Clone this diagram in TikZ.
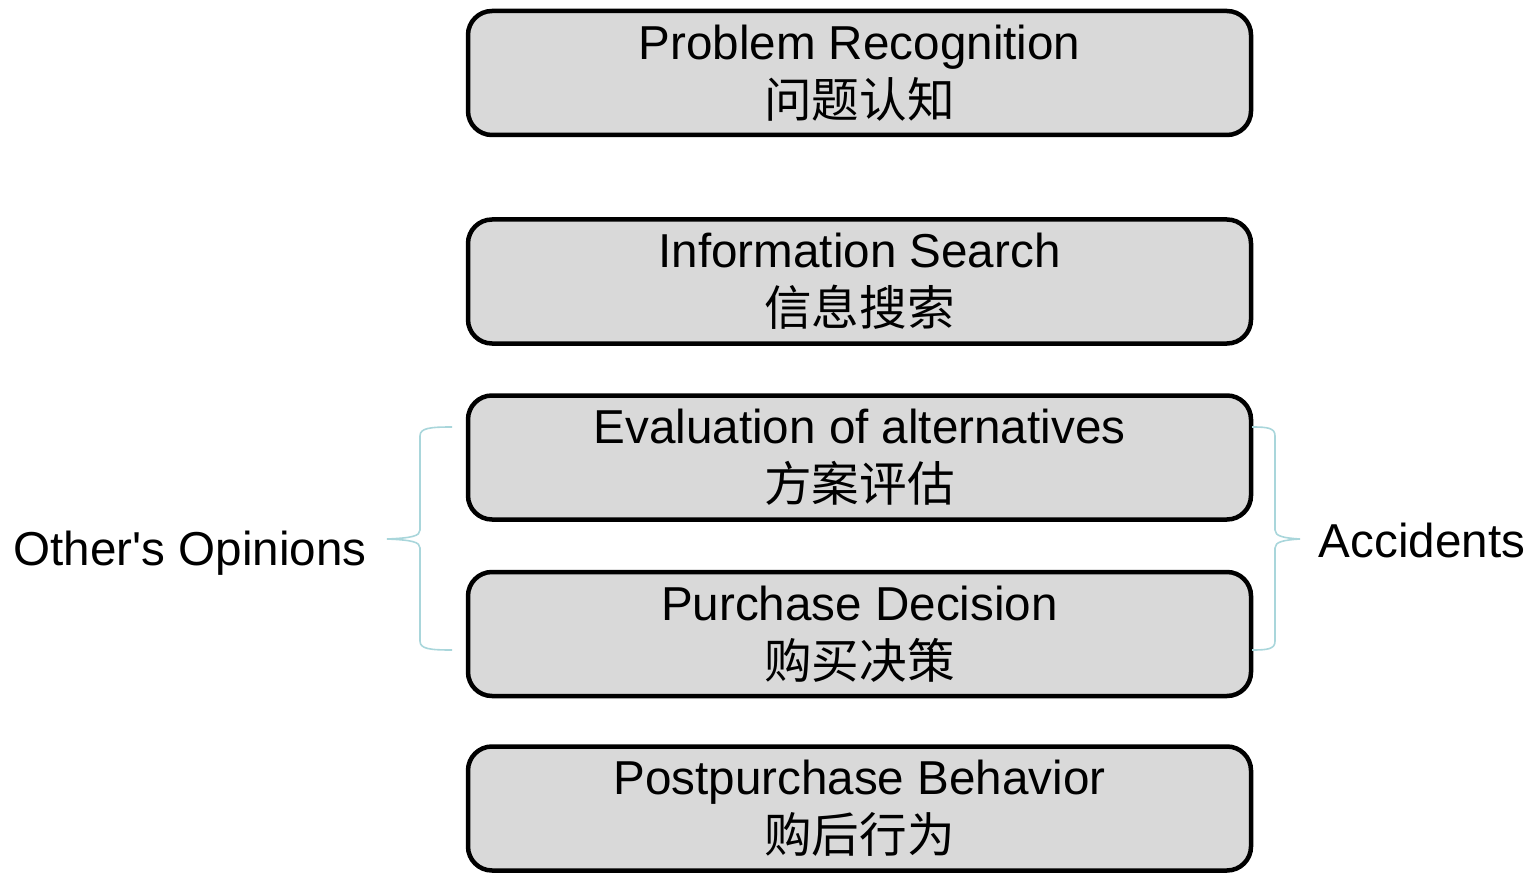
\documentclass[tikz,border=0pt]{standalone}
\usepackage{fontspec}
\setmainfont{Liberation Sans}[Ligatures=TeXOff]
\newfontfamily\cjk{Noto Sans CJK SC}
\definecolor{boxfill}{HTML}{D9D9D9}
\definecolor{bracecol}{HTML}{A9D6DB}
\begin{document}
\begin{tikzpicture}[x=1pt,y=-1pt,
  stage/.style={draw=black, line width=4.5pt, fill=boxfill, rounded corners=24pt,
    minimum width=783pt, minimum height=124pt, inner sep=0pt, outer sep=0pt,
    align=center, font=\fontsize{47.6}{58}\selectfont},
  side/.style={font=\fontsize{47.6}{58}\selectfont, inner sep=0pt},
  brace/.style={draw=bracecol, line width=1.6pt}]
\useasboundingbox (0,0) rectangle (1530,874);
\node[stage] (pr) at (859.5,73) {Problem Recognition\\{\cjk 问题认知}};
\node[stage] (is) at (859.5,281.5) {Information Search\\{\cjk 信息搜索}};
\node[stage] (ev) at (859.5,457.5) {Evaluation of alternatives\\{\cjk 方案评估}};
\node[stage] (pd) at (859.5,634) {Purchase Decision\\{\cjk 购买决策}};
\node[stage] (pp) at (859.5,808.5) {Postpurchase Behavior\\{\cjk 购后行为}};
\node[side] (oo) at (190,553) {Other's Opinions};
\node[side] (ac) at (1422,540) {Accidents};
% left brace
\coordinate (lt) at (452,427);
\coordinate (lb) at (452,650);
\coordinate (ltip) at (387,539);
\draw[brace] (lt) .. controls (430,427) and (420,428) .. (420,436)
  -- (420,530) .. controls (420,536) and (412,538) .. (ltip)
  .. controls (412,540) and (420,542) .. (420,548)
  -- (420,641) .. controls (420,649) and (430,650) .. (lb);
% right brace
\coordinate (rt) at (1252,427);
\coordinate (rb) at (1252,650);
\coordinate (rtip) at (1300,539);
\draw[brace] (rt) .. controls (1268,427) and (1275,428) .. (1275,436)
  -- (1275,530) .. controls (1275,536) and (1283,538) .. (rtip)
  .. controls (1283,540) and (1275,542) .. (1275,548)
  -- (1275,641) .. controls (1275,649) and (1268,650) .. (rb);
\end{tikzpicture}
\end{document}
